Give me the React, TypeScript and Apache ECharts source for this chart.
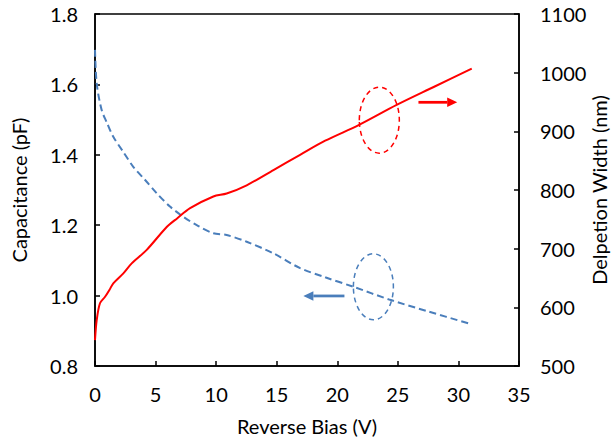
import React, { useEffect, useRef } from "react";
import * as echarts from "echarts";

// Reverse bias sweep (V)
const biasC = [0, 0.14, 0.55, 1.0, 1.51, 2.3, 3.16, 4.1, 5.09, 6.19, 7.29, 8.5, 9.77, 10.87, 12.52, 14.73, 16.93, 19.0, 21.33, 24.36, 27.5, 30.83];
// Capacitance (pF)
const capacitance = [1.698, 1.603, 1.527, 1.49, 1.451, 1.41, 1.366, 1.33, 1.291, 1.253, 1.224, 1.198, 1.177, 1.172, 1.153, 1.12, 1.078, 1.052, 1.025, 0.988, 0.955, 0.921];

const biasW = [0, 0.14, 0.41, 0.83, 1.2, 1.51, 2.34, 3.03, 4.27, 5.92, 6.8, 7.85, 9.77, 10.87, 12.52, 14.73, 16.93, 19.0, 21.8, 24.9, 28.0, 31.1];
// Depletion width (nm)
const depletion = [544, 578, 607, 618, 630, 641, 658, 675, 698, 737, 752, 769, 789, 794, 808, 834, 860, 884, 911, 945, 976, 1007];

// Annotation anchors in data units
const redEllipse = { v: 23.47, w: 919 };
const blueEllipse = { v: 22.98, c: 1.025 };
const redArrow = { from: 26.7, to: 29.9, w: 949.5 };
const blueArrow = { from: 20.59, to: 17.2, c: 0.999 };

const RED = "#FF0000";
const BLUE = "#4A7EBB";
const FONT = "Lato, 'Open Sans', sans-serif";
const FS = 20;

export default function App() {
  const ref = useRef<HTMLDivElement>(null);

  useEffect(() => {
    if (!ref.current) return;
    const chart = echarts.init(ref.current, undefined, { renderer: "svg" });

    const axisCommon = {
      axisLine: { show: true, lineStyle: { color: "#000", width: 1.5 } },
      axisTick: { show: true, inside: true, length: 5, lineStyle: { color: "#000", width: 1.5 } },
      splitLine: { show: false },
      nameMoveOverlap: false,
      nameTextStyle: { fontFamily: FONT, fontSize: FS, color: "#000" },
    };

    chart.setOption({
      animation: false,
      grid: {
        left: 95,
        right: 92,
        top: 14,
        bottom: 72,
        show: true,
        borderColor: "#000",
        borderWidth: 1.5,
        outerBoundsMode: "none",
      },
      xAxis: {
        type: "value",
        min: 0,
        max: 35,
        interval: 5,
        name: "Reverse Bias (V)",
        nameLocation: "middle",
        nameGap: 50,
        ...axisCommon,
        axisLabel: { fontFamily: FONT, fontSize: FS, color: "#000", margin: 18 },
      },
      yAxis: [
        {
          type: "value",
          min: 0.8,
          max: 1.8,
          interval: 0.2,
          position: "left",
          name: "Capacitance (pF)",
          nameLocation: "middle",
          nameGap: 66,
          ...axisCommon,
          axisLabel: {
            fontFamily: FONT,
            fontSize: FS,
            color: "#000",
            margin: 17,
            formatter: (v: number) => v.toFixed(1),
          },
        },
        {
          type: "value",
          min: 500,
          max: 1100,
          interval: 100,
          position: "right",
          name: "Delpetion Width (nm)",
          nameLocation: "middle",
          nameGap: 70,
          nameRotate: 90,
          ...axisCommon,
          axisLabel: {
            fontFamily: FONT,
            fontSize: FS,
            color: "#000",
            margin: 21,
            formatter: (v: number) => String(v),
          },
        },
      ],
      series: [
        {
          type: "line",
          yAxisIndex: 0,
          data: biasC.map((v, i) => [v, capacitance[i]]),
          showSymbol: false,
          smooth: 0.3,
          lineStyle: { color: BLUE, width: 2, type: [7, 4] },
        },
        {
          type: "line",
          yAxisIndex: 1,
          data: biasW.map((v, i) => [v, depletion[i]]),
          showSymbol: false,
          smooth: 0.3,
          lineStyle: { color: RED, width: 2 },
        },
      ],
    });

    const pW = (v: number, w: number) =>
      chart.convertToPixel({ xAxisIndex: 0, yAxisIndex: 1 }, [v, w]) as number[];
    const pC = (v: number, c: number) =>
      chart.convertToPixel({ xAxisIndex: 0, yAxisIndex: 0 }, [v, c]) as number[];

    const re = pW(redEllipse.v, redEllipse.w);
    const be = pC(blueEllipse.v, blueEllipse.c);
    const ra0 = pW(redArrow.from, redArrow.w);
    const ra1 = pW(redArrow.to, redArrow.w);
    const ba0 = pC(blueArrow.from, blueArrow.c);
    const ba1 = pC(blueArrow.to, blueArrow.c);

    const arrow = (a: number[], b: number[], color: string) => {
      const dir = Math.sign(b[0] - a[0]);
      const head = 10;
      return [
        {
          type: "line",
          shape: { x1: a[0], y1: a[1], x2: b[0] - dir * head, y2: b[1] },
          style: { stroke: color, lineWidth: 2.75 },
        },
        {
          type: "polygon",
          shape: {
            points: [
              [b[0], b[1]],
              [b[0] - dir * head, b[1] - 4.75],
              [b[0] - dir * head, b[1] + 4.75],
            ],
          },
          style: { fill: color },
        },
      ];
    };

    chart.setOption({
      graphic: [
        {
          type: "ellipse",
          shape: { cx: re[0], cy: re[1], rx: 20, ry: 33 },
          style: { fill: "none", stroke: RED, lineWidth: 1.5, lineDash: [5, 4] },
        },
        {
          type: "ellipse",
          shape: { cx: be[0], cy: be[1], rx: 20, ry: 33 },
          style: { fill: "none", stroke: BLUE, lineWidth: 1.5, lineDash: [5, 4] },
        },
        ...arrow(ra0, ra1, RED),
        ...arrow(ba0, ba1, BLUE),
      ],
    });

    return () => chart.dispose();
  }, []);

  return (
    <div
      ref={ref}
      style={{ position: "fixed", left: 0, top: 0, width: 611, height: 438, background: "#fff" }}
    />
  );
}
